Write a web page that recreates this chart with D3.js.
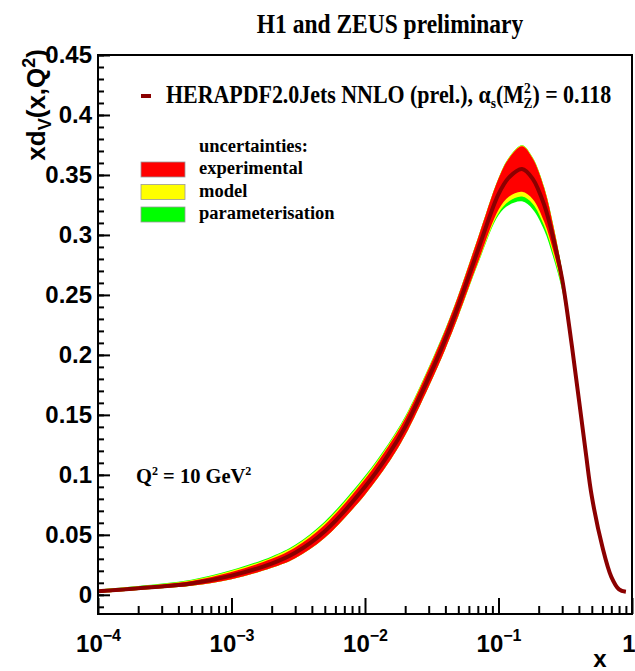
<!DOCTYPE html>
<html>
<head>
<meta charset="utf-8">
<script src="https://cdn.jsdelivr.net/npm/d3@7"></script>
<style>
  body { margin: 0; background: #fff; }
  svg { display: block; }
</style>
</head>
<body>
<div id="chart"></div>
<script>
// x grid and the xd_v curve with its uncertainty envelopes
const xs      = [1e-4, 2e-4, 5e-4, 1e-3, 2e-3, 3e-3, 5e-3, 0.01, 0.015, 0.02, 0.03, 0.04, 0.05, 0.07, 0.1, 0.12, 0.15, 0.18, 0.22, 0.26, 0.3, 0.35, 0.4, 0.45, 0.5, 0.6, 0.7, 0.8, 0.9];
const central = [0.003, 0.0055, 0.0095, 0.016, 0.026, 0.035, 0.053, 0.090, 0.117, 0.140, 0.181, 0.213, 0.241, 0.287, 0.334, 0.348, 0.355, 0.347, 0.325, 0.295, 0.263, 0.212, 0.163, 0.119, 0.082, 0.040, 0.015, 0.0045, 0.0025];
const expLo   = [0.0015, 0.0040, 0.0075, 0.0130, 0.0225, 0.0305, 0.0475, 0.0835, 0.1100, 0.1330, 0.1735, 0.2050, 0.2325, 0.2770, 0.3210, 0.3320, 0.3360, 0.3300, 0.3110, 0.2850, 0.2570, 0.2080, 0.1600, 0.1170, 0.0805, 0.0392, 0.0145, 0.0043, 0.0024];
const expHi   = [0.0040, 0.0068, 0.0115, 0.0190, 0.0300, 0.0395, 0.0585, 0.0965, 0.1240, 0.1470, 0.1885, 0.2210, 0.2495, 0.2970, 0.3470, 0.3640, 0.3740, 0.3640, 0.3390, 0.3050, 0.2690, 0.2160, 0.1660, 0.1210, 0.0835, 0.0408, 0.0155, 0.0047, 0.0026];
const modLo   = [0.0015, 0.0040, 0.0075, 0.0130, 0.0225, 0.0305, 0.0475, 0.0835, 0.1100, 0.1330, 0.1735, 0.2050, 0.2322, 0.2760, 0.3180, 0.3280, 0.3320, 0.3260, 0.3075, 0.2820, 0.2550, 0.2065, 0.1590, 0.1162, 0.0800, 0.0390, 0.0144, 0.0043, 0.0024];
const modHi   = [0.0045, 0.0072, 0.0122, 0.0200, 0.0312, 0.0408, 0.0600, 0.0980, 0.1252, 0.1480, 0.1892, 0.2214, 0.2498, 0.2972, 0.3472, 0.3645, 0.3745, 0.3645, 0.3395, 0.3055, 0.2695, 0.2165, 0.1665, 0.1215, 0.0840, 0.0410, 0.0156, 0.0047, 0.0026];
const parLo   = [0.0015, 0.0040, 0.0075, 0.0130, 0.0225, 0.0305, 0.0475, 0.0835, 0.1100, 0.1330, 0.1735, 0.2050, 0.2320, 0.2755, 0.3165, 0.3250, 0.3280, 0.3215, 0.3040, 0.2795, 0.2535, 0.2055, 0.1582, 0.1156, 0.0796, 0.0388, 0.0143, 0.0043, 0.0024];
const parHi   = [0.0045, 0.0074, 0.0126, 0.0206, 0.0320, 0.0418, 0.0612, 0.0992, 0.1262, 0.1488, 0.1898, 0.2218, 0.2500, 0.2973, 0.3473, 0.3648, 0.3748, 0.3648, 0.3398, 0.3058, 0.2698, 0.2168, 0.1668, 0.1217, 0.0842, 0.0411, 0.0157, 0.0047, 0.0026];

const yMajor = [0, 0.05, 0.1, 0.15, 0.2, 0.25, 0.3, 0.35, 0.4, 0.45];
const yMinor = d3.range(-0.01, 0.451, 0.01);
const xMajor = [1e-4, 1e-3, 1e-2, 1e-1, 1];
const xExp   = ["\u22124", "\u22123", "\u22122", "\u22121", ""];

const W = 635, H = 671;
const margin = { top: 55, right: 3, bottom: 57, left: 98 };
const width = W - margin.left - margin.right,
      height = H - margin.top - margin.bottom;

const svg = d3.select("#chart").append("svg")
    .attr("width", W)
    .attr("height", H);

const g = svg.append("g")
    .attr("transform", `translate(${margin.left},${margin.top})`);

const x = d3.scaleLog().domain([1e-4, 1]).range([0, width]);
const y = d3.scaleLinear().domain([-0.016, 0.45]).range([height, 0]);

const pts = xs.map((v, i) => ({
    x: v, c: central[i],
    eLo: expLo[i], eHi: expHi[i],
    mLo: modLo[i], mHi: modHi[i],
    pLo: parLo[i], pHi: parHi[i]
}));

function band(lo, hi) {
    return d3.area()
        .x(d => x(d.x))
        .y0(d => y(d[lo]))
        .y1(d => y(d[hi]))
        .curve(d3.curveCatmullRom);
}

g.append("path").datum(pts).attr("fill", "#00ff00").attr("d", band("pLo", "pHi"));
g.append("path").datum(pts).attr("fill", "#ffff00").attr("d", band("mLo", "mHi"));
g.append("path").datum(pts).attr("fill", "#ff0000").attr("d", band("eLo", "eHi"));

g.append("path")
    .datum(pts)
    .attr("fill", "none")
    .attr("stroke", "#8b0000")
    .attr("stroke-width", 4)
    .attr("d", d3.line().x(d => x(d.x)).y(d => y(d.c)).curve(d3.curveCatmullRom));

// axes (ticks point inward like ROOT)
const axisFont = "'Liberation Sans', Arial, sans-serif";

g.append("g")
    .call(d3.axisLeft(y).tickValues(yMinor).tickSize(-6).tickFormat(""))
    .call(s => s.select(".domain").remove())
    .selectAll("line").attr("stroke-width", 2);

const ya = g.append("g")
    .call(d3.axisLeft(y).tickValues(yMajor).tickSize(-12).tickPadding(6).tickFormat(d3.format("")))
    .call(s => s.select(".domain").remove());
ya.selectAll("line").attr("stroke-width", 2);
ya.selectAll("text")
    .style("font-family", axisFont)
    .style("font-weight", "bold")
    .style("font-size", "24px")
    .attr("fill", "#000");

const xMinor = [];
for (let e = -4; e < 0; e++) for (let k = 2; k <= 9; k++) xMinor.push(k * Math.pow(10, e));

g.append("g")
    .attr("transform", `translate(0,${height})`)
    .call(d3.axisBottom(x).tickValues(xMinor).tickSize(-8).tickFormat(""))
    .call(s => s.select(".domain").remove())
    .selectAll("line").attr("stroke-width", 2);

const xa = g.append("g")
    .attr("transform", `translate(0,${height})`)
    .call(d3.axisBottom(x).tickValues(xMajor).tickSize(-16).tickPadding(0).tickFormat(""))
    .call(s => s.select(".domain").remove());
xa.selectAll("line").attr("stroke-width", 2);

xa.selectAll(".tick").append("text")
    .attr("y", 38)
    .attr("fill", "#000")
    .attr("text-anchor", "middle")
    .style("font-family", axisFont)
    .style("font-weight", "bold")
    .style("font-size", "24px")
    .each(function(d, i) {
        const t = d3.select(this);
        if (d === 1) { t.attr("text-anchor", "end").attr("dx", 3).text("1"); return; }
        t.append("tspan").text("10");
        t.append("tspan").attr("dy", -11).style("font-size", "16px").text(xExp[i]);
    });

// frame
g.append("rect")
    .attr("width", width)
    .attr("height", height)
    .attr("fill", "none")
    .attr("stroke", "#000")
    .attr("stroke-width", 2);

// axis titles
svg.append("text")
    .attr("x", 600)
    .attr("y", 667)
    .attr("text-anchor", "middle")
    .style("font-family", axisFont)
    .style("font-weight", "bold")
    .style("font-size", "24px")
    .text("x");

const yt = svg.append("text")
    .attr("transform", "translate(45,49) rotate(-90)")
    .attr("text-anchor", "end")
    .style("font-family", axisFont)
    .style("font-weight", "bold")
    .style("font-size", "26px");
yt.append("tspan").text("xd");
yt.append("tspan").attr("dy", 6).style("font-size", "18px").text("V");
yt.append("tspan").attr("dy", -6).text("(x,Q");
yt.append("tspan").attr("dy", -10).style("font-size", "18px").text("2");
yt.append("tspan").attr("dy", 10).text(")");

// title and legend (serif text is a little condensed in the original)
const serif = "'Liberation Serif', 'Times New Roman', serif";

svg.append("text")
    .attr("transform", "translate(390,33) scale(0.87,1)")
    .attr("text-anchor", "middle")
    .style("font-family", serif)
    .style("font-weight", "bold")
    .style("font-size", "27px")
    .text("H1 and ZEUS preliminary");

svg.append("line")
    .attr("x1", 141).attr("x2", 151)
    .attr("y1", 96).attr("y2", 96)
    .attr("stroke", "#8b0000")
    .attr("stroke-width", 4);

const lt = svg.append("text")
    .attr("transform", "translate(166,103) scale(0.895,1)")
    .style("font-family", serif)
    .style("font-weight", "bold")
    .style("font-size", "24.5px");
lt.append("tspan").text("HERAPDF2.0Jets NNLO (prel.), \u03b1");
lt.append("tspan").attr("dy", 5).style("font-size", "15px").text("s");
lt.append("tspan").attr("dy", -5).text("(M");
lt.append("tspan").attr("dy", -10).style("font-size", "15px").text("2");
lt.append("tspan").attr("dy", 15).attr("dx", -8).style("font-size", "15px").text("Z");
lt.append("tspan").attr("dy", -5).text(") = 0.118");

const uncNames = ["experimental", "model", "parameterisation"];
const uncColors = ["#ff0000", "#ffff00", "#00ff00"];

svg.append("text")
    .attr("x", 199).attr("y", 152)
    .style("font-family", serif)
    .style("font-weight", "bold")
    .style("font-size", "18.5px")
    .text("uncertainties:");

uncNames.forEach((name, i) => {
    svg.append("rect")
        .attr("x", 141).attr("y", 162 + i * 22.5)
        .attr("width", 44).attr("height", 15)
        .attr("fill", uncColors[i])
        .attr("stroke", "#999")
        .attr("stroke-width", 0.8);
    svg.append("text")
        .attr("x", 199).attr("y", 174 + i * 22.5)
        .style("font-family", serif)
        .style("font-weight", "bold")
        .style("font-size", "18.5px")
        .text(name);
});

const qt = svg.append("text")
    .attr("x", 136).attr("y", 483)
    .style("font-family", serif)
    .style("font-weight", "bold")
    .style("font-size", "20.5px");
qt.append("tspan").text("Q");
qt.append("tspan").attr("dy", -8).style("font-size", "12px").text("2");
qt.append("tspan").attr("dy", 8).text(" = 10 GeV");
qt.append("tspan").attr("dy", -8).style("font-size", "12px").text("2");
</script>
</body>
</html>
